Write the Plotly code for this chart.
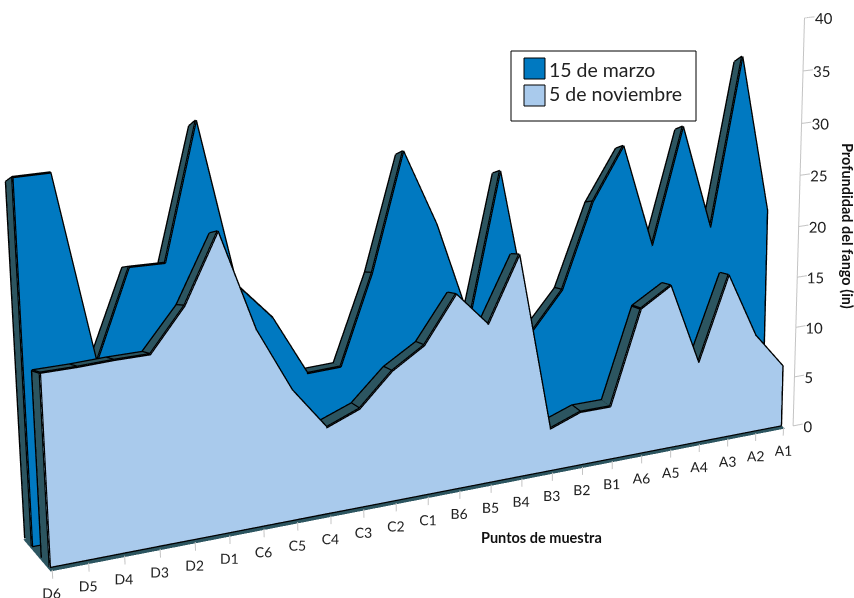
import plotly.graph_objects as go

categories = ["D6","D5","D4","D3","D2","D1","C6","C5","C4","C3","C2","C1",
              "B6","B5","B4","B3","B2","B1","A6","A5","A4","A3","A2","A1"]
marzo = [35.0,35.0,16.7,25.3,25.2,38.2,22.1,18.4,12.3,12.4,21.3,32.9,
         25.2,15.0,29.7,12.7,16.6,25.3,30.6,19.8,31.8,20.8,38.3,21.7]
noviembre = [17.3,17.3,17.4,17.4,21.2,27.3,18.1,12.1,8.1,9.3,12.3,14.2,
             18.5,15.2,21.3,4.1,5.2,5.2,14.3,16.1,8.0,16.2,9.7,6.1]
series_names = ["15 de marzo", "5 de noviembre"]
z_ticks = [0,5,10,15,20,25,30,35,40]

BLUE = "#0079c1"
LIGHT = "#a9caec"
TEAL = "#2c5560"
N = len(categories)
SHEAR_L, SHEAR_R = 3.1, -1.7     # slant of the depth axis at the two ends, in category widths
LEAN_L, LEAN_R = 0.0437, 0.0417  # slant of the value axis, in category widths per unit


def px(i, d, z=0.0):
    f = i / (N - 1)
    return i - (SHEAR_L + (SHEAR_R - SHEAR_L) * f) * d + (LEAN_L + (LEAN_R - LEAN_L) * f) * z


FLAT = dict(ambient=1, diffuse=0, specular=0, fresnel=0)


def strip_faces(n):
    I, J, K = [], [], []
    for t in range(n - 1):
        a = 2 * t
        I += [a, a + 1]; J += [a + 2, a + 2]; K += [a + 1, a + 3]
    return I, J, K


def wall(vals, d0, d1, name, color):
    n = len(vals)
    xs, ys, zs = [], [], []
    for t, v in enumerate(vals):
        xs += [px(t, d0, 0), px(t, d0, v)]
        ys += [d0, d0]
        zs += [0, v]
    I, J, K = strip_faces(n)
    face = go.Mesh3d(x=xs, y=ys, z=zs, i=I, j=J, k=K, color=color, name=name,
                     flatshading=True, hoverinfo="skip", lighting=FLAT)
    xs, ys, zs = [], [], []
    for t, v in enumerate(vals):
        xs += [px(t, d0, v), px(t, d1, v)]
        ys += [d0, d1]
        zs += [v, v]
    b = len(xs)
    xs += [px(0, d0, 0), px(0, d1, 0), px(0, d0, vals[0]), px(0, d1, vals[0])]
    ys += [d0, d1, d0, d1]
    zs += [0, 0, vals[0], vals[0]]
    I, J, K = strip_faces(n)
    I += [b, b + 1]; J += [b + 2, b + 2]; K += [b + 1, b + 3]
    strip = go.Mesh3d(x=xs, y=ys, z=zs, i=I, j=J, k=K, color=TEAL,
                      flatshading=True, hoverinfo="skip", lighting=FLAT)
    lx, ly, lz = [], [], []

    def seg(pts):
        for (t, d, z) in pts:
            lx.append(px(t, d, z)); ly.append(d); lz.append(z)
        lx.append(None); ly.append(None); lz.append(None)
    seg([(0, d0, 0)] + [(t, d0, v) for t, v in enumerate(vals)] + [(n - 1, d0, 0), (0, d0, 0)])
    seg([(0, d1, 0), (0, d1, vals[0])] + [(t, d1, v) for t, v in enumerate(vals)])
    for t, v in enumerate(vals):
        seg([(t, d0, v), (t, d1, v)])
    line = go.Scatter3d(x=lx, y=ly, z=lz, mode="lines", showlegend=False, hoverinfo="skip",
                        line=dict(color="#000000", width=5))
    return [strip, face, line]


fig = go.Figure()
# floor, a little under the baseline so the outline stays on top
FLOOR_Z = -0.12
fl_t = [-0.05, 23.05, -0.05, 23.05]
fl_d = [0.0, 0.0, 0.63, 0.63]
fig.add_trace(go.Mesh3d(x=[px(t, d) for t, d in zip(fl_t, fl_d)], y=fl_d, z=[FLOOR_Z] * 4,
                        i=[0, 1], j=[1, 3], k=[2, 2], color=TEAL, flatshading=True,
                        hoverinfo="skip", lighting=FLAT))
for tr in wall(marzo, 0.45, 0.62, series_names[0], BLUE):
    fig.add_trace(tr)
for tr in wall(noviembre, 0.05, 0.22, series_names[1], LIGHT):
    fig.add_trace(tr)

# value axis on the right wall
AX_T, AX_D = 23.35, 0.0
ax_x, ax_y, ax_z = [px(AX_T, AX_D, 0), px(AX_T, AX_D, 40)], [AX_D, AX_D], [0, 40]
for v in z_ticks:
    ax_x += [None, px(AX_T, AX_D, v), px(AX_T + 0.35, AX_D, v)]
    ax_y += [None, AX_D, AX_D]
    ax_z += [None, v, v]
fig.add_trace(go.Scatter3d(x=ax_x, y=ax_y, z=ax_z, mode="lines", showlegend=False,
                           hoverinfo="skip", line=dict(color="#c4c4c4", width=2)))
fig.add_trace(go.Scatter3d(x=[px(AX_T - 0.15, AX_D, v) for v in z_ticks], y=[AX_D] * len(z_ticks),
                           z=z_ticks, mode="text", text=[str(v) for v in z_ticks],
                           textposition="middle right", showlegend=False, hoverinfo="skip",
                           textfont=dict(family="Lato", size=15, color="#222222")))
# category axis under the floor
TICK_Z = -0.8
cx, cy, cz = [], [], []
for t in range(N):
    cx += [px(t, 0, 0), px(t, 0, TICK_Z), None]
    cy += [0, 0, None]
    cz += [0, TICK_Z, None]
fig.add_trace(go.Scatter3d(x=cx, y=cy, z=cz, mode="lines", showlegend=False, hoverinfo="skip",
                           line=dict(color="#c4c4c4", width=2)))
fig.add_trace(go.Scatter3d(x=[px(t, 0, TICK_Z) for t in range(N)], y=[0] * N,
                           z=[TICK_Z + 0.4] * N,
                           mode="text", text=categories, textposition="bottom center",
                           showlegend=False, hoverinfo="skip",
                           textfont=dict(family="Lato", size=14, color="#222222")))

W_PX, H_PX = 854, 598
shapes = [
    dict(type="rect", xref="paper", yref="paper", x0=511 / W_PX, x1=696 / W_PX,
         y0=1 - 121 / H_PX, y1=1 - 51 / H_PX, line=dict(color="#000000", width=1),
         fillcolor="white"),
    dict(type="rect", xref="paper", yref="paper", x0=524 / W_PX, x1=545 / W_PX,
         y0=1 - 79 / H_PX, y1=1 - 58 / H_PX, line=dict(color="#000000", width=1),
         fillcolor=BLUE),
    dict(type="rect", xref="paper", yref="paper", x0=524 / W_PX, x1=545 / W_PX,
         y0=1 - 106 / H_PX, y1=1 - 85 / H_PX, line=dict(color="#000000", width=1),
         fillcolor=LIGHT),
]
legend_font = dict(family="Lato", size=19.5, color="#222222")
title_font = dict(family="Lato", size=14.5, color="#111111")
annotations = [
    dict(text=series_names[0], x=547 / W_PX, y=1 - 69 / H_PX, xref="paper", yref="paper",
         xanchor="left", yanchor="middle", showarrow=False, font=legend_font),
    dict(text=series_names[1], x=547 / W_PX, y=1 - 93 / H_PX, xref="paper", yref="paper",
         xanchor="left", yanchor="middle", showarrow=False, font=legend_font),
    dict(text="<b>Puntos de muestra</b>", x=541 / W_PX, y=1 - 537 / H_PX, xref="paper",
         yref="paper", xanchor="center", yanchor="middle", showarrow=False, font=title_font),
    dict(text="<b>Profundidad del fango (in)</b>", x=847 / W_PX, y=1 - 226 / H_PX, xref="paper",
         yref="paper", xanchor="center", yanchor="middle", textangle=90, showarrow=False,
         font=title_font),
]

fig.update_layout(
    width=W_PX, height=H_PX, margin=dict(l=0, r=0, t=0, b=0), showlegend=False,
    paper_bgcolor="white", font=dict(family="Lato", color="#222222"),
    shapes=shapes, annotations=annotations,
    scene=dict(
        domain=dict(x=[0, 1], y=[0, 1]),
        aspectmode="manual", aspectratio=dict(x=2.836, y=0.5, z=1.402),
        camera=dict(eye=dict(x=-0.312, y=-2.341, z=0.229),
                    center=dict(x=-0.014, y=-0.225, z=0.015),
                    up=dict(x=0.139, y=-0.0195, z=1)),
        dragmode="orbit",
        xaxis=dict(title="", range=[-2.5, 26.5], visible=False),
        yaxis=dict(title="", range=[0, 1], visible=False),
        zaxis=dict(title="", range=[-4, 40], visible=False),
    ),
)
fig.write_html("out.html", config=dict(displayModeBar=False),
               post_script="document.body.style.margin='0';document.body.style.overflow='hidden';")
